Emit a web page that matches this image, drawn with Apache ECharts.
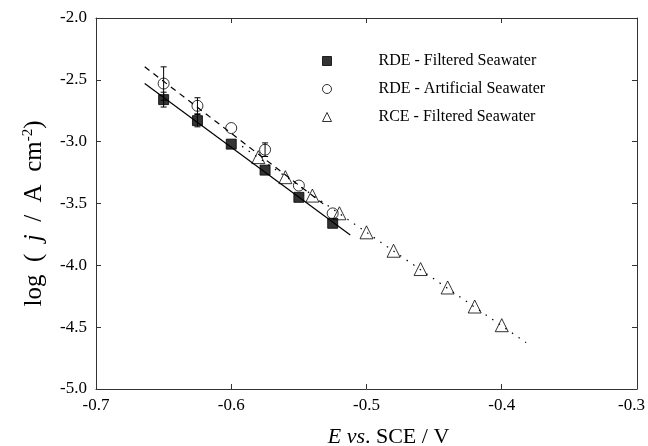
<!DOCTYPE html>
<html>
<head>
<meta charset="utf-8">
<script src="https://cdn.jsdelivr.net/npm/echarts@6/dist/echarts.min.js"></script>
<style>
  html, body { margin: 0; padding: 0; background: #fff; }
  #chart { width: 648px; height: 446px; }
</style>
</head>
<body>
<div id="chart"></div>
<script>
// potentials (V vs SCE)
const eRDE = [-0.65, -0.625, -0.60, -0.575, -0.55, -0.525];
const eRCE = [-0.58, -0.56, -0.54, -0.52, -0.50, -0.48, -0.46, -0.44, -0.42, -0.40];

// log(j) values, error half-widths (0 = hidden behind the marker)
const logFiltered = [-2.66, -2.83, -3.02, -3.23, -3.45, -3.66];
const errFiltered = [0.06, 0.05, 0, 0, 0, 0];
const logArtificial = [-2.53, -2.71, -2.89, -3.065, -3.355, -3.58];
const errArtificial = [0.135, 0.065, 0, 0.055, 0, 0];
const logRCE = [-3.125, -3.287, -3.436, -3.579, -3.733, -3.882, -4.030, -4.179, -4.333, -4.484];

// linear fit lines (end points)
const fitFilteredX = [-0.664, -0.512];
const fitFilteredY = [-2.53, -3.755];
const fitArtificialX = [-0.664, -0.532];
const fitArtificialY = [-2.395, -3.503];
const fitRCEX = [-0.592, -0.382];
const fitRCEY = [-3.038, -4.625];

const xTicks = { min: -0.7, max: -0.3, step: 0.1 };
const yTicks = { min: -5.0, max: -2.0, step: 0.5 };

const serif = 'Liberation Serif';
const names = ['RDE - Filtered Seawater', 'RDE - Artificial Seawater', 'RCE - Filtered Seawater'];

const pairs = (xs, ys) => xs.map((x, i) => [x, ys[i]]);
const errData = (xs, ys, es) => xs
  .map((x, i) => [x, ys[i] - es[i], ys[i] + es[i], es[i]])
  .filter(d => d[3] > 0);

function errorBar(params, api) {
  const x = api.value(0);
  const top = api.coord([x, api.value(2)]);
  const bot = api.coord([x, api.value(1)]);
  const cap = 3;
  const st = { stroke: '#000', lineWidth: 1 };
  return {
    type: 'group',
    children: [
      { type: 'line', shape: { x1: top[0], y1: top[1], x2: bot[0], y2: bot[1] }, style: st },
      { type: 'line', shape: { x1: top[0] - cap, y1: top[1], x2: top[0] + cap, y2: top[1] }, style: st },
      { type: 'line', shape: { x1: bot[0] - cap, y1: bot[1], x2: bot[0] + cap, y2: bot[1] }, style: st }
    ]
  };
}

function fitLine(xs, ys, type) {
  return {
    type: 'line',
    data: pairs(xs, ys),
    showSymbol: false,
    symbol: 'none',
    silent: true,
    lineStyle: { color: '#000', width: 1.2, type: type },
    z: 1
  };
}

const axisCommon = {
  type: 'value',
  axisLine: { show: true, lineStyle: { color: '#333', width: 1 } },
  axisTick: { show: true, inside: true, length: 5, lineStyle: { color: '#333' } },
  splitLine: { show: false }
};

const chart = echarts.init(document.getElementById('chart'));
chart.setOption({
  animation: false,
  backgroundColor: '#fff',
  grid: { left: 96, right: 11, top: 18, bottom: 57, containLabel: false, outerBoundsMode: 'none' },
  legend: {
    data: names,
    orient: 'vertical',
    left: 322,
    top: 52,
    padding: 0,
    itemWidth: 9,
    itemHeight: 9,
    itemGap: 10,
    itemStyle: { borderWidth: 1 },
    textStyle: { fontFamily: serif, fontSize: 16, color: '#000', lineHeight: 18, padding: [0, 0, 0, 42] }
  },
  xAxis: [
    Object.assign({}, axisCommon, {
      min: xTicks.min, max: xTicks.max, interval: xTicks.step,
      axisLabel: {
        fontFamily: serif, fontSize: 17, color: '#000', margin: 8,
        showMinLabel: true, showMaxLabel: true,
        // last label sits a little left so it stays inside the picture
        formatter: v => Math.abs(v - xTicks.max) < 1e-9 ? '{r|' + v.toFixed(1) + '}' : v.toFixed(1),
        rich: { r: { fontFamily: serif, fontSize: 17, color: '#000', padding: [0, 11, 0, 0] } }
      },
      name: '{i|E vs}. SCE / V',
      nameLocation: 'middle',
      nameGap: 37,
      nameTextStyle: {
        fontFamily: serif, fontSize: 22, color: '#000', padding: [0, 0, 0, 44],
        rich: { i: { fontFamily: serif, fontSize: 22, fontStyle: 'italic', color: '#000' } }
      }
    }),
    Object.assign({}, axisCommon, {
      position: 'top',
      min: xTicks.min, max: xTicks.max, interval: xTicks.step,
      axisLabel: { show: false }
    })
  ],
  yAxis: [
    Object.assign({}, axisCommon, {
      min: yTicks.min, max: yTicks.max, interval: yTicks.step,
      axisLabel: {
        fontFamily: serif, fontSize: 17, color: '#000', margin: 9,
        formatter: v => v.toFixed(1)
      },
      name: 'log  (  {i|j}  /  A  cm{sup|-2})',
      nameLocation: 'middle',
      nameGap: 48,
      nameTextStyle: {
        fontFamily: serif, fontSize: 25, color: '#000', padding: [0, 20, 0, 0],
        rich: {
          i: { fontFamily: serif, fontSize: 25, fontStyle: 'italic', color: '#000' },
          sup: { fontFamily: serif, fontSize: 15, color: '#000', verticalAlign: 'top', padding: [0, 0, 12, 0] }
        }
      }
    }),
    Object.assign({}, axisCommon, {
      position: 'right',
      min: yTicks.min, max: yTicks.max, interval: yTicks.step,
      axisLabel: { show: false }
    })
  ],
  series: [
    fitLine(fitFilteredX, fitFilteredY, 'solid'),
    fitLine(fitArtificialX, fitArtificialY, [6, 5]),
    fitLine(fitRCEX, fitRCEY, [1.5, 6.5]),
    {
      type: 'custom',
      renderItem: errorBar,
      data: errData(eRDE, logFiltered, errFiltered),
      encode: { x: 0, y: [1, 2] },
      silent: true,
      z: 2
    },
    {
      type: 'custom',
      renderItem: errorBar,
      data: errData(eRDE, logArtificial, errArtificial),
      encode: { x: 0, y: [1, 2] },
      silent: true,
      z: 2
    },
    {
      name: names[0],
      type: 'scatter',
      symbol: 'rect',
      symbolSize: 10,
      data: pairs(eRDE, logFiltered),
      itemStyle: { color: '#000', borderColor: '#000', borderWidth: 1 },
      z: 4
    },
    {
      name: names[1],
      type: 'scatter',
      symbol: 'circle',
      symbolSize: 11,
      data: pairs(eRDE, logArtificial),
      itemStyle: { color: 'rgba(255,255,255,0)', borderColor: '#000', borderWidth: 1 },
      z: 3
    },
    {
      name: names[2],
      type: 'scatter',
      symbol: 'triangle',
      symbolSize: 13,
      data: pairs(eRCE, logRCE),
      itemStyle: { color: 'rgba(255,255,255,0)', borderColor: '#000', borderWidth: 1 },
      z: 3
    }
  ]
});
</script>
</body>
</html>
